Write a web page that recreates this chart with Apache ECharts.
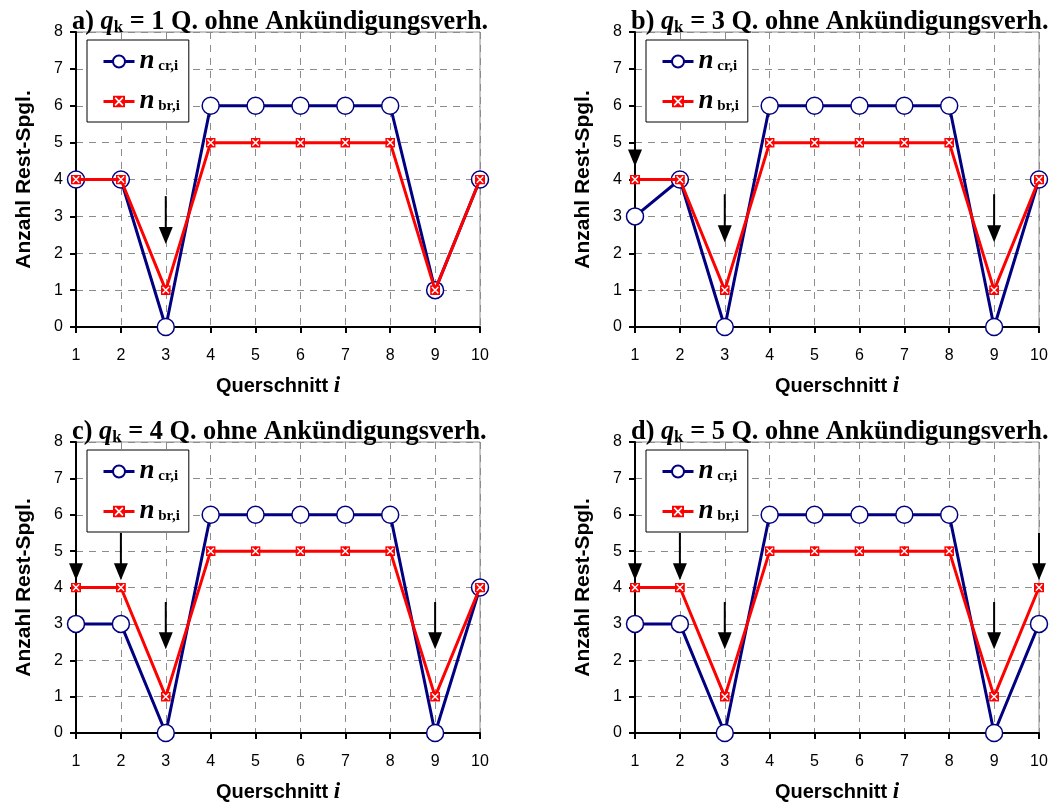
<!DOCTYPE html>
<html>
<head>
<meta charset="utf-8">
<script src="https://cdn.jsdelivr.net/npm/echarts@6/dist/echarts.min.js"></script>
<style>
  html, body { margin: 0; padding: 0; background: #fff; }
  #chart { width: 1054px; height: 805px; }
</style>
</head>
<body>
<div id="chart"></div>
<script>
// Cross sections 1..10
const sections = [1, 2, 3, 4, 5, 6, 7, 8, 9, 10];
const yTicks = [0, 1, 2, 3, 4, 5, 6, 7, 8];

// Number of remaining tendons per cross section, for each q_k case
const panelLabels = ['a)', 'b)', 'c)', 'd)'];
const qkValues = [1, 3, 4, 5];

const crA = [4, 4, 0, 6, 6, 6, 6, 6, 1, 4];
const brA = [4, 4, 1, 5, 5, 5, 5, 5, 1, 4];
const crB = [3, 4, 0, 6, 6, 6, 6, 6, 0, 4];
const brB = [4, 4, 1, 5, 5, 5, 5, 5, 1, 4];
const crC = [3, 3, 0, 6, 6, 6, 6, 6, 0, 4];
const brC = [4, 4, 1, 5, 5, 5, 5, 5, 1, 4];
const crD = [3, 3, 0, 6, 6, 6, 6, 6, 0, 3];
const brD = [4, 4, 1, 5, 5, 5, 5, 5, 1, 4];

// Arrows: [section, shaft top value, tip value]
const arrowsA = [[3, 3.55, 2.25]];
const arrowsB = [[1, 5.6, 4.35], [3, 3.6, 2.3], [9, 3.6, 2.3]];
const arrowsC = [[1, 5.5, 4.2], [2, 5.5, 4.2], [3, 3.6, 2.3], [9, 3.6, 2.3]];
const arrowsD = [[1, 5.5, 4.2], [2, 5.5, 4.2], [3, 3.6, 2.3], [9, 3.6, 2.3], [10, 5.5, 4.2]];

const crSets = [crA, crB, crC, crD];
const brSets = [brA, brB, brC, brD];
const arrowSets = [arrowsA, arrowsB, arrowsC, arrowsD];

const NAVY = '#000080';
const RED = '#ff0000';
const SERIF = '"Liberation Serif", "Times New Roman", serif';
const SANS = '"Liberation Sans", Arial, sans-serif';

// red square with a white cross
const crossMark = 'image://data:image/svg+xml;charset=utf-8,' + encodeURIComponent(
  "<svg xmlns='http://www.w3.org/2000/svg' width='20' height='20' viewBox='0 0 10 10'>" +
  "<rect width='10' height='10' fill='#ff0000'/>" +
  "<path d='M1.8 1.8L8.2 8.2M8.2 1.8L1.8 8.2' stroke='#ffffff' stroke-width='1.4'/></svg>");

const gridBoxes = [
  { left: 76, top: 32 },
  { left: 635, top: 32 },
  { left: 76, top: 442 },
  { left: 635, top: 442 }
];
const GW = 404, GH = 295;

const grids = [], xAxes = [], yAxes = [], series = [], titles = [], legends = [];

gridBoxes.forEach((g, i) => {
  grids.push({
    left: g.left, top: g.top, width: GW, height: GH,
    show: true, borderColor: '#8c8c8c', borderWidth: 1, backgroundColor: 'transparent'
  });
  xAxes.push({
    gridIndex: i, type: 'value', min: 1, max: 10, interval: 1,
    name: '{n|Querschnitt }{i|i}', nameLocation: 'middle', nameGap: 48,
    nameTextStyle: {
      rich: {
        n: { fontFamily: SANS, fontWeight: 'bold', fontSize: 20, color: '#000' },
        i: { fontFamily: SERIF, fontWeight: 'bold', fontStyle: 'italic', fontSize: 23, color: '#000' }
      }
    },
    axisLine: { show: true, onZero: false, lineStyle: { color: '#000', width: 2 } },
    axisTick: { show: true, length: 6, lineStyle: { color: '#000', width: 2 } },
    axisLabel: { fontFamily: SANS, fontSize: 16, color: '#000', margin: 21 },
    splitLine: { show: true, lineStyle: { color: '#8c8c8c', width: 1, type: [7, 6] } }
  });
  yAxes.push({
    gridIndex: i, type: 'value', min: yTicks[0], max: yTicks[yTicks.length - 1], interval: 1,
    name: 'Anzahl Rest-Spgl.', nameLocation: 'middle', nameGap: 41,
    nameTextStyle: { fontFamily: SANS, fontWeight: 'bold', fontSize: 21, color: '#000' },
    axisLine: { show: true, onZero: false, lineStyle: { color: '#000', width: 2 } },
    axisTick: { show: true, length: 6, lineStyle: { color: '#000', width: 2 } },
    axisLabel: { fontFamily: SANS, fontSize: 16, color: '#000', margin: 13 },
    splitLine: { show: true, lineStyle: { color: '#8c8c8c', width: 1, type: [7, 6] } }
  });

  titles.push({
    left: g.left - 4, top: g.top - 23, padding: 0,
    text: '{a|' + panelLabels[i] + ' }{q|q}{k|k}{a| = ' + qkValues[i] + ' Q. ohne Ankündigungsverh.}',
    textStyle: {
      rich: {
        a: { fontFamily: SERIF, fontWeight: 'bold', fontSize: 26.3, lineHeight: 27, color: '#000' },
        q: { fontFamily: SERIF, fontWeight: 'bold', fontStyle: 'italic', fontSize: 26.3, lineHeight: 27, color: '#000' },
        k: { fontFamily: SERIF, fontWeight: 'bold', fontSize: 17, lineHeight: 11, verticalAlign: 'bottom', color: '#000' }
      }
    }
  });

  legends.push({
    orient: 'vertical', left: g.left + 11, top: g.top + 8,
    data: ['cr', 'br'],
    itemWidth: 31, itemHeight: 15, itemGap: 13,
    padding: [8, 9, 7, 15],
    backgroundColor: '#fff', borderColor: '#000', borderWidth: 1, borderRadius: 0,
    selectedMode: false,
    lineStyle: { width: 3 },
    formatter: name => '{n|n}{s| ' + name + ',i}',
    textStyle: {
      rich: {
        n: { fontFamily: SERIF, fontWeight: 'bold', fontStyle: 'italic', fontSize: 27, lineHeight: 25, color: '#000' },
        s: { fontFamily: SERIF, fontWeight: 'bold', fontSize: 15, lineHeight: 12, verticalAlign: 'bottom', color: '#000' }
      }
    }
  });

  series.push({
    name: 'cr', type: 'line', xAxisIndex: i, yAxisIndex: i,
    data: sections.map((s, k) => [s, crSets[i][k]]),
    symbol: 'circle', symbolSize: 17, showAllSymbol: true,
    lineStyle: { color: NAVY, width: 3 },
    itemStyle: { color: '#fff', borderColor: NAVY, borderWidth: 1.5 },
    z: 3, animation: false
  });
  series.push({
    name: 'br', type: 'line', xAxisIndex: i, yAxisIndex: i,
    data: sections.map((s, k) => [s, brSets[i][k]]),
    symbol: crossMark, symbolSize: 10, showAllSymbol: true,
    lineStyle: { color: RED, width: 3 },
    itemStyle: { color: RED },
    z: 4, animation: false
  });
  series.push({
    type: 'custom', xAxisIndex: i, yAxisIndex: i,
    data: arrowSets[i], clip: false, z: 5, animation: false, silent: true,
    renderItem: (params, api) => {
      const top = api.coord([api.value(0), api.value(1)]);
      const tip = api.coord([api.value(0), api.value(2)]);
      const headLen = 17, half = 7;
      return {
        type: 'group',
        children: [
          { type: 'line', shape: { x1: top[0], y1: top[1], x2: tip[0], y2: tip[1] - headLen + 1 },
            style: { stroke: '#000', lineWidth: 2 } },
          { type: 'polygon',
            shape: { points: [[tip[0] - half, tip[1] - headLen], [tip[0] + half, tip[1] - headLen], [tip[0], tip[1]]] },
            style: { fill: '#000' } }
        ]
      };
    }
  });
});

const chart = echarts.init(document.getElementById('chart'), null, { renderer: 'canvas' });
chart.setOption({
  animation: false,
  backgroundColor: '#fff',
  title: titles,
  legend: legends,
  grid: grids,
  xAxis: xAxes,
  yAxis: yAxes,
  series: series
});
</script>
</body>
</html>
